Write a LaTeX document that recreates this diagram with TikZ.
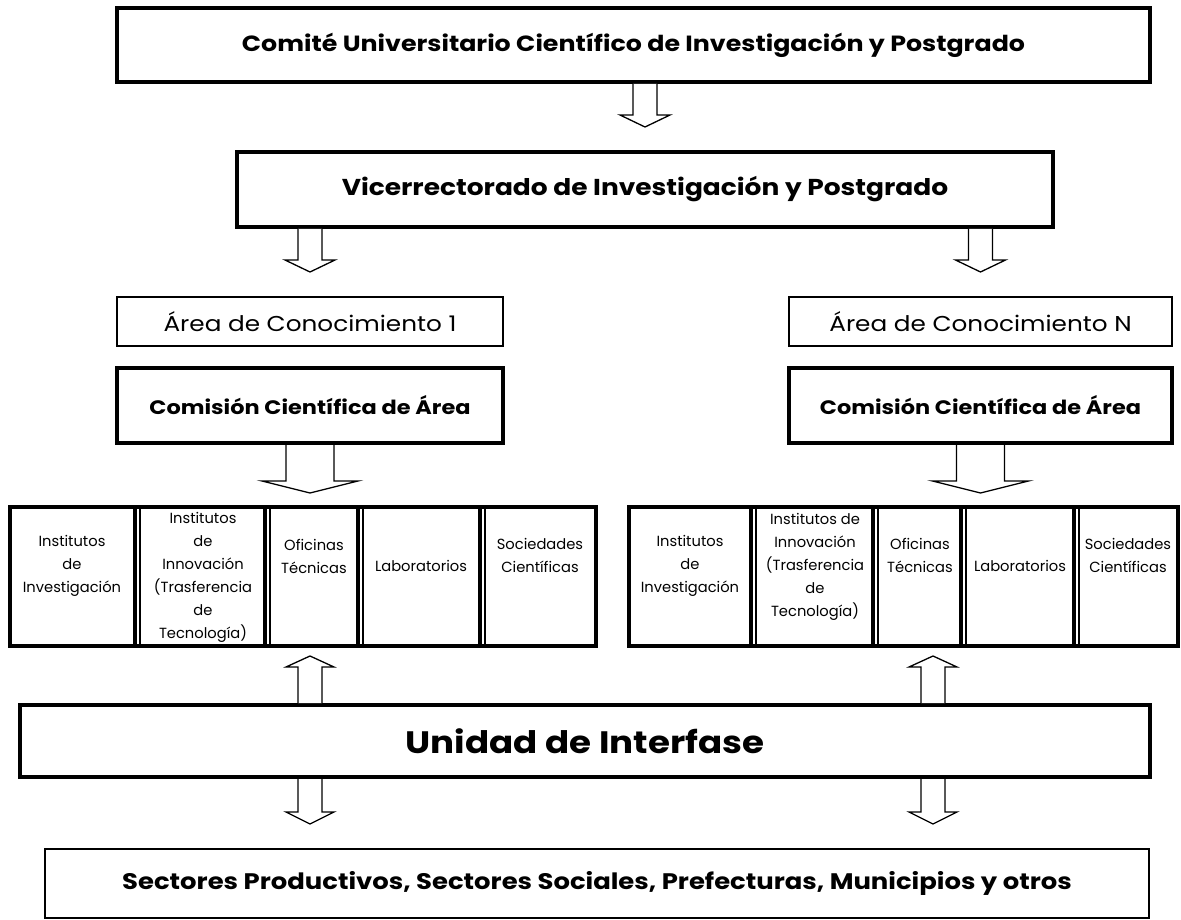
\documentclass[tikz,border=0pt]{standalone}
\usepackage{fontspec}
\setmainfont{Poppins}
\newfontfamily\widefont[FakeStretch=1.15]{Poppins}
\usetikzlibrary{calc}

\tikzset{
	heavybox/.style={draw, line width=4pt, align=center, font=\widefont\bfseries\fontsize{22}{26}\selectfont},
	lightbox/.style={draw, line width=2pt, align=center, font=\widefont\fontsize{21.5}{25}\selectfont},
	rowbox/.style={draw, line width=4.5pt, minimum height=139pt},
	cell/.style={align=center, inner sep=0pt, font=\fontsize{14.7}{23}\selectfont},
	septhick/.style={line width=3.5pt},
	septhin/.style={line width=1.5pt},
	fatline/.style={draw, fill=white, line width=1.3pt, line join=miter},
}

% hollow block arrow: start, tip, half shaft, half head, head length (signed)
\newcommand{\fatarrow}[5]{%
	\draw[fatline] let \p1=(#1), \p2=(#2) in
		(\x1-#3,\y1) -- (\x1-#3,\y2+#5) -- (\x1-#4,\y2+#5) -- (\x1,\y2)
		-- (\x1+#4,\y2+#5) -- (\x1+#3,\y2+#5) -- (\x1+#3,\y1);
}

\begin{document}
\begin{tikzpicture}[x=1pt, y=-1pt]
	\useasboundingbox (0,0) rectangle (1181,920);

	\node[heavybox, minimum width=1033pt, minimum height=74pt] (comite) at (633.5,45) {Comité Universitario Científico de Investigación y Postgrado};
	\node[heavybox, minimum width=816pt, minimum height=75pt, font=\widefont\bfseries\fontsize{23}{27}\selectfont] (vice) at (645,189.5) {Vicerrectorado de Investigación y Postgrado};

	\node[lightbox, minimum width=386pt, minimum height=49pt] (area1) at (310,321.5) {Área de Conocimiento 1};
	\node[lightbox, minimum width=383pt, minimum height=49pt] (areaN) at (980.5,321.5) {Área de Conocimiento N};
	\node[heavybox, minimum width=386pt, minimum height=75pt, font=\widefont\bfseries\fontsize{19.5}{24}\selectfont] (comis1) at (310,405.5) {Comisión Científica de Área};
	\node[heavybox, minimum width=383pt, minimum height=75pt, font=\widefont\bfseries\fontsize{19.5}{24}\selectfont] (comisN) at (980.5,405.5) {Comisión Científica de Área};

	% the two rows of units
	\node[rowbox, minimum width=586pt] (row1) at (303,576.5) {};
	\node[rowbox, minimum width=549pt] (row2) at (903.5,576.5) {};
	\foreach \x in {135,265,358,480,751,873,961,1074} {
		\draw[septhick] (\x,507) -- (\x,646);
		\draw[septhin] (\x+5,507) -- (\x+5,646);
	}

	\node[cell] (inv1) at (72,566) {Institutos\\de\\Investigación};
	\node[cell] (inn1) at (203,577) {Institutos\\de\\Innovación\\(Trasferencia\\de\\Tecnología)};
	\node[cell] (ofi1) at (314,556) {Oficinas\\Técnicas};
	\node[cell] (lab1) at (421,566) {Laboratorios};
	\node[cell] (soc1) at (540,555) {Sociedades\\Científicas};

	\node[cell] (inv2) at (690,566) {Institutos\\de\\Investigación};
	\node[cell] (inn2) at (815,567) {Institutos de\\Innovación\\(Trasferencia\\de\\Tecnología)};
	\node[cell] (ofi2) at (920,555) {Oficinas\\Técnicas};
	\node[cell] (lab2) at (1020,566) {Laboratorios};
	\node[cell] (soc2) at (1128,555) {Sociedades\\Científicas};

	\node[heavybox, minimum width=1130pt, minimum height=72pt, font=\widefont\bfseries\fontsize{31}{35}\selectfont] (unidad) at (585,741) {Unidad de Interfase};
	\node[lightbox, minimum width=1104pt, minimum height=69pt, font=\widefont\bfseries\fontsize{22.5}{26}\selectfont] (sectores) at (597,883.5) {Sectores Productivos, Sectores Sociales, Prefecturas, Municipios y otros};

	\coordinate (upL) at (310,656);
	\coordinate (upR) at (933,656);

	\fatarrow{vice.north |- comite.south}{$(vice.north)+(0,-23)$}{12pt}{25pt}{12pt}
	\fatarrow{area1.north |- vice.south}{$(area1.north)+(0,-24)$}{12pt}{25pt}{12pt}
	\fatarrow{areaN.north |- vice.south}{$(areaN.north)+(0,-24)$}{12pt}{25pt}{12pt}
	\fatarrow{comis1.south}{$(comis1.south)+(0,48)$}{24pt}{48pt}{12pt}
	\fatarrow{comisN.south}{$(comisN.south)+(0,48)$}{24pt}{48pt}{12pt}
	\fatarrow{upL |- unidad.north}{upL}{12pt}{24pt}{-11pt}
	\fatarrow{upR |- unidad.north}{upR}{12pt}{24pt}{-11pt}
	\fatarrow{upL |- unidad.south}{$(upL |- sectores.north)+(0,-24)$}{12pt}{24pt}{12pt}
	\fatarrow{upR |- unidad.south}{$(upR |- sectores.north)+(0,-24)$}{12pt}{24pt}{12pt}
\end{tikzpicture}
\end{document}
